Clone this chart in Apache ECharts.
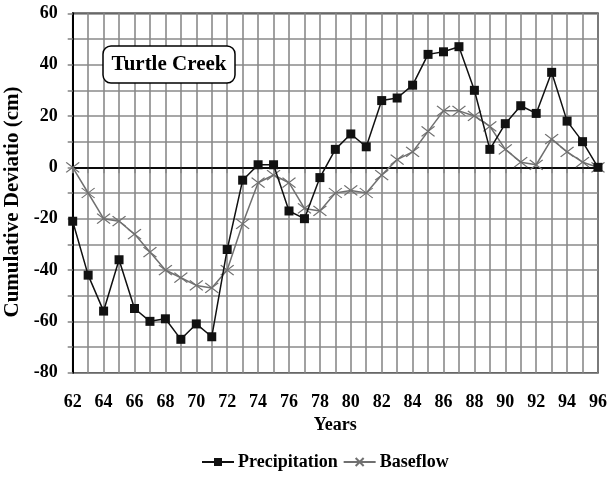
<!DOCTYPE html>
<html><head><meta charset="utf-8">
<script src="https://cdn.jsdelivr.net/npm/echarts@6/dist/echarts.min.js"></script>
<style>html,body{margin:0;padding:0;background:#fff}#c{width:608px;height:489px}</style>
</head><body><div id="c"></div>
<script>
const years = ['62','63','64','65','66','67','68','69','70','71','72','73','74','75','76','77','78','79','80','81','82','83','84','85','86','87','88','89','90','91','92','93','94','95','96'];
const precipitation = [-21,-42,-56,-36,-55,-60,-59,-67,-61,-66,-32,-5,1,1,-17,-20,-4,7,13,8,26,27,32,44,45,47,30,7,17,24,21,37,18,10,0];
const baseflow = [0,-10,-20,-21,-26,-33,-40,-43,-46,-47,-40,-22,-6,-3,-6,-16,-17,-10,-9,-10,-3,3,6,14,22,22,20,16,7,2,1,11,6,2,0];
const yTicks = {min:-80, max:60, interval:20};
const font = 'Liberation Serif';
const chart = echarts.init(document.getElementById('c'));
const gridColor = '#8a8a8a';
chart.setOption({
  animation:false,
  grid:{left:72.7, top:13.3, right:10, bottom:116.3, outerBoundsMode:'none', containLabel:false,
    show:true, borderColor:'#000', borderWidth:1.5, backgroundColor:'transparent'},
  graphic:[{type:'group', children:[
    {type:'rect', shape:{x:103,y:46,width:132,height:37,r:8}, style:{fill:'#fff', stroke:'#000', lineWidth:1.5}, z:100},
    {type:'text', x:169, y:64.5, style:{text:'Turtle Creek', font:'bold 21px "Liberation Serif"', fill:'#000', align:'center', verticalAlign:'middle'}, z:101}
  ]}],
  legend:{left:196, top:448, itemGap:5, itemWidth:32, itemHeight:10,
    textStyle:{fontFamily:font, fontWeight:'bold', fontSize:18, color:'#000', padding:[0,0,0,-1]},
    data:['Precipitation','Baseflow']},
  xAxis:{type:'category', data:years, boundaryGap:false,
    name:'Years', nameLocation:'middle', nameGap:44,
    nameTextStyle:{fontFamily:font, fontWeight:'bold', fontSize:18, color:'#000'},
    axisLine:{lineStyle:{color:'#000', width:1.5}},
    axisTick:{show:true, interval:0, length:6, lineStyle:{color:gridColor, width:1.6}},
    axisLabel:{interval:1, margin:21, fontFamily:font, fontWeight:'bold', fontSize:18, color:'#000'},
    splitLine:{show:true, interval:0, lineStyle:{color:gridColor, width:1.6}}},
  yAxis:{type:'value', min:yTicks.min, max:yTicks.max, interval:yTicks.interval,
    name:'Cumulative Deviatio (cm)', nameLocation:'middle', nameGap:45, nameRotate:90,
    nameTextStyle:{fontFamily:font, fontWeight:'bold', fontSize:21, color:'#000', padding:[0,18,0,0]},
    axisLine:{show:true, lineStyle:{color:'#000', width:2}},
    axisTick:{show:true, length:5, lineStyle:{color:gridColor, width:1.6}},
    minorTick:{show:true, splitNumber:2, length:5, lineStyle:{color:gridColor, width:1.6}},
    axisLabel:{margin:15, fontFamily:font, fontWeight:'bold', fontSize:18, color:'#000'},
    splitLine:{show:true, lineStyle:{color:gridColor, width:1.6}},
    minorSplitLine:{show:true, lineStyle:{color:gridColor, width:1.6}}},
  series:[
    {name:'Precipitation', type:'line', data:precipitation, symbol:'rect', symbolSize:9, showAllSymbol:true,
      lineStyle:{color:'#111', width:1.5}, itemStyle:{color:'#111'}, z:5,
      markLine:{silent:true, symbol:'none', label:{show:false}, lineStyle:{color:'#000', type:'solid', width:1.5}, data:[{yAxis:0}], z:3}},
    {name:'Baseflow', type:'line', data:baseflow, symbol:'path://M0,0L10,10M10,0L0,10', symbolSize:[13,10], showAllSymbol:true,
      lineStyle:{color:'#707070', width:1.5}, itemStyle:{color:'#707070', borderColor:'#707070', borderWidth:1.2}, z:4}
  ]
});
</script></body></html>
